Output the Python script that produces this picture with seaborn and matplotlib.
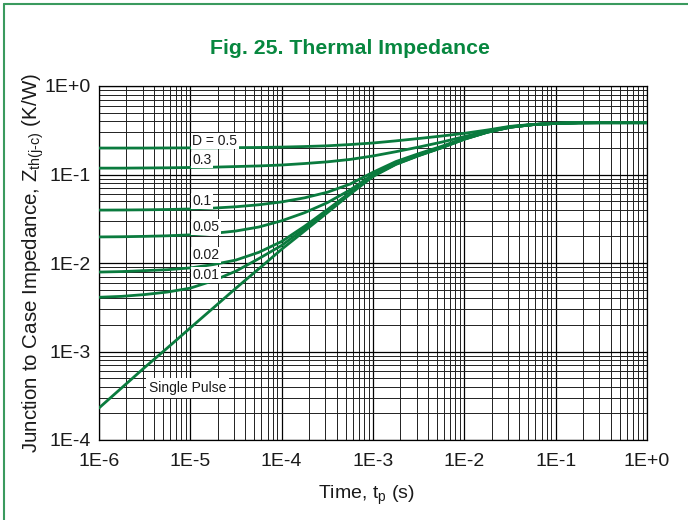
import numpy as np
import pandas as pd
import matplotlib
matplotlib.use("Agg")
import matplotlib.pyplot as plt
from matplotlib.ticker import LogLocator, FuncFormatter, NullFormatter
from matplotlib.lines import Line2D
import seaborn as sns

# Pulse duration (s), quarter-decade samples
time_s = [1e-6, 1.78e-6, 3.16e-6, 5.62e-6,
          1e-5, 1.78e-5, 3.16e-5, 5.62e-5,
          1e-4, 1.78e-4, 3.16e-4, 5.62e-4,
          1e-3, 1.78e-3, 3.16e-3, 5.62e-3,
          1e-2, 1.78e-2, 3.16e-2, 5.62e-2,
          1e-1, 1.78e-1, 3.16e-1, 5.62e-1, 1.0]

# Junction-to-case thermal impedance (K/W) per duty cycle
z_d050 = [0.199, 0.199, 0.199, 0.1995, 0.200, 0.200, 0.201, 0.202, 0.204, 0.207,
          0.211, 0.218, 0.227, 0.240, 0.255, 0.272, 0.292, 0.318, 0.350, 0.368,
          0.379, 0.384, 0.385, 0.385, 0.385]
z_d030 = [0.118, 0.118, 0.1185, 0.119, 0.120, 0.121, 0.123, 0.125, 0.128, 0.133,
          0.139, 0.148, 0.162, 0.181, 0.204, 0.232, 0.268, 0.310, 0.347, 0.367,
          0.378, 0.384, 0.385, 0.385, 0.385]
z_d010 = [0.0396, 0.0397, 0.0399, 0.0402, 0.0408, 0.0417, 0.0432, 0.0455, 0.0490, 0.0545,
          0.0630, 0.0780, 0.1060, 0.140, 0.172, 0.208, 0.257, 0.304, 0.344, 0.366,
          0.378, 0.384, 0.385, 0.385, 0.385]
z_d005 = [0.0197, 0.0198, 0.0200, 0.0203, 0.0208, 0.0216, 0.0230, 0.0255, 0.0300, 0.0370,
          0.0480, 0.0670, 0.1000, 0.134, 0.167, 0.204, 0.254, 0.302, 0.343, 0.366,
          0.378, 0.384, 0.385, 0.385, 0.385]
z_d002 = [0.0079, 0.0080, 0.0082, 0.0084, 0.0088, 0.0096, 0.0108, 0.0132, 0.0175, 0.0260,
          0.0400, 0.0625, 0.0975, 0.132, 0.165, 0.202, 0.252, 0.301, 0.342, 0.366,
          0.378, 0.384, 0.385, 0.385, 0.385]
z_d001 = [0.0041, 0.0042, 0.0044, 0.0047, 0.0052, 0.0063, 0.0081, 0.0112, 0.0158, 0.0245,
          0.0385, 0.0615, 0.0965, 0.131, 0.164, 0.201, 0.251, 0.300, 0.342, 0.366,
          0.378, 0.384, 0.385, 0.385, 0.385]
z_single = [2.3e-4, 3.9e-4, 6.6e-4, 1.1e-3, 1.85e-3, 3.1e-3, 5.2e-3, 8.6e-3, 0.0143, 0.0230,
            0.0370, 0.0600, 0.0950, 0.130, 0.163, 0.200, 0.250, 0.300, 0.342, 0.366,
            0.378, 0.384, 0.385, 0.385, 0.385]

series_names = ["D = 0.5", "0.3", "0.1", "0.05", "0.02", "0.01", "Single Pulse"]
series_values = [z_d050, z_d030, z_d010, z_d005, z_d002, z_d001, z_single]

# Curve annotations: (text, x, y)
label_x = 1.05e-5
curve_labels = [("D = 0.5", label_x, 0.239),
                ("0.3", label_x, 0.146),
                ("0.1", label_x, 0.0502),
                ("0.05", label_x, 0.0255),
                ("0.02", label_x, 0.0123),
                ("0.01", label_x, 0.0073)]
single_label = ("Single Pulse", 9.4e-6, 3.87e-4)

x_limits = (1e-6, 1.0)
y_limits = (1e-4, 1.0)

df = pd.DataFrame({
    "t": np.tile(time_s, len(series_names)),
    "z": np.concatenate(series_values),
    "series": np.repeat(series_names, len(time_s)),
})

line_green = "#0a7b3e"
title_green = "#07873f"
frame_green = "#3a9a5e"
text_color = "#1a1a1a"

sns.set_style("white")
plt.rcParams["font.family"] = ["Liberation Sans", "DejaVu Sans"]
plt.rcParams["mathtext.fontset"] = "custom"
plt.rcParams["mathtext.rm"] = "Liberation Sans"
plt.rcParams["mathtext.it"] = "Liberation Sans"

fig = plt.figure(figsize=(6.88, 5.2), dpi=100)
ax = fig.add_axes([99 / 688, 80 / 520, 548 / 688, 354 / 520])
ax.set_xscale("log")
ax.set_yscale("log")

sns.lineplot(data=df, x="t", y="z", hue="series", palette=[line_green] * len(series_names),
             legend=False, linewidth=2.0, ax=ax, zorder=4)

ax.set_xlim(*x_limits)
ax.set_ylim(*y_limits)

for axis in (ax.xaxis, ax.yaxis):
    axis.set_major_locator(LogLocator(base=10, numticks=12))
    axis.set_minor_locator(LogLocator(base=10, subs=np.arange(2, 10), numticks=12))
    axis.set_minor_formatter(NullFormatter())
    axis.set_major_formatter(FuncFormatter(lambda v, _: f"1E{int(round(np.log10(v))):+d}"))

ax.grid(which="major", color="black", linewidth=0.9, zorder=1)
ax.grid(which="minor", color="#202020", linewidth=0.7, zorder=1)
ax.set_axisbelow(True)
ax.tick_params(which="both", length=0)
ax.tick_params(axis="y", pad=6, labelsize=14, labelcolor=text_color)
ax.tick_params(axis="x", pad=9, labelsize=14, labelcolor=text_color)
for side in ("left", "bottom", "top", "right"):
    ax.spines[side].set_color("black")
    ax.spines[side].set_linewidth(0.9)

ax.set_xlabel(r"Time, t$_{\mathregular{p}}$ (s)", fontsize=14, color=text_color)
ax.xaxis.set_label_coords((366 - 99) / 548, -0.125)
ax.set_ylabel(r"Junction to Case Impedance, Z$_{\text{th(j-c)}}$ (K/W)", fontsize=14.8,
              color=text_color)
ax.yaxis.set_label_coords(-0.096, 0.5)

box = dict(facecolor="white", edgecolor="none", pad=1.0)
for text, x, y in curve_labels:
    ax.text(x, y, text, ha="left", va="center", fontsize=10, color=text_color,
            bbox=box, zorder=5)
ax.text(single_label[1], single_label[2], single_label[0], ha="center", va="center",
        fontsize=10, color=text_color, bbox=dict(facecolor="white", edgecolor="none", pad=2.0),
        zorder=5)

fig.text(0.508, 1 - 48 / 520, "Fig. 25. Thermal Impedance", ha="center", va="center",
         color=title_green, fontsize=15.3, fontweight="bold",
         family=["Liberation Sans Narrow", "Liberation Sans", "DejaVu Sans"])

# Green frame along the left and top edges
fig.add_artist(Line2D([3.5 / 688, 3.5 / 688], [0, 1 - 4 / 520], transform=fig.transFigure,
                      color=frame_green, linewidth=1.5))
fig.add_artist(Line2D([3.5 / 688, 1], [1 - 4 / 520, 1 - 4 / 520], transform=fig.transFigure,
                      color=frame_green, linewidth=1.5))

fig.savefig("out.png", dpi=100, facecolor="white")
